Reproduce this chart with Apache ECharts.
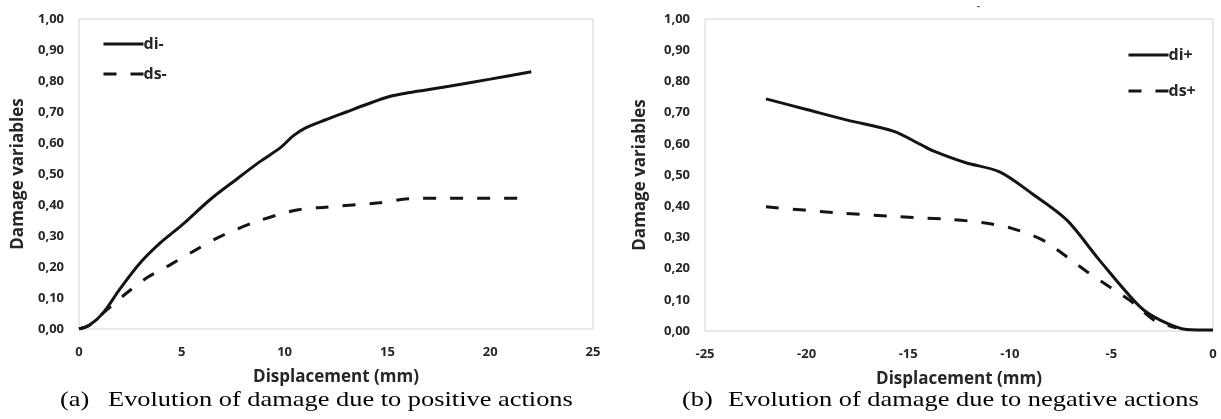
<!DOCTYPE html>
<html>
<head>
<meta charset="utf-8">
<script src="https://cdn.jsdelivr.net/npm/echarts@6/dist/echarts.min.js"></script>
<style>
  html, body { margin: 0; padding: 0; background: #ffffff; }
  #chart { width: 1221px; height: 419px; }
</style>
</head>
<body>
<div id="chart"></div>
<script>
// (a) positive actions: displacement (mm) vs damage variables
const diMinusX = [0, 0.5, 1.18, 2, 2.97, 3.94, 5, 6.37, 7.6, 8.8, 9.8, 10.4, 11, 12, 13, 14, 15.1, 16, 18, 20, 22];
const diMinusY = [0, 0.012, 0.052, 0.13, 0.213, 0.277, 0.335, 0.417, 0.48, 0.54, 0.585, 0.622, 0.648, 0.675, 0.7, 0.725, 0.75, 0.762, 0.783, 0.806, 0.83];
const dsMinusX = [0, 0.5, 1.18, 2.32, 3.3, 4.43, 5.6, 6.86, 8.64, 10.6, 12, 14.6, 16, 18, 20, 22];
const dsMinusY = [0, 0.012, 0.052, 0.116, 0.165, 0.207, 0.252, 0.298, 0.347, 0.384, 0.393, 0.407, 0.42, 0.422, 0.422, 0.422];

// (b) negative actions
const diPlusX = [-22, -20, -18, -15.7, -14.4, -13.8, -12.2, -10.5, -8.9, -7.2, -5.6, -3.6, -2.6, -1.3, 0];
const diPlusY = [0.744, 0.71, 0.676, 0.64, 0.598, 0.578, 0.54, 0.51, 0.44, 0.356, 0.228, 0.078, 0.035, 0.005, 0.003];
const dsPlusX = [-22, -18.7, -15.4, -13, -11.3, -9.9, -8.4, -7.2, -6.2, -5.1, -3.9, -2.9, -1.8];
const dsPlusY = [0.398, 0.38, 0.366, 0.358, 0.347, 0.329, 0.292, 0.238, 0.19, 0.142, 0.089, 0.035, 0.01];

const xTicksA = { min: 0, max: 25, step: 5 };
const xTicksB = { min: -25, max: 0, step: 5 };
const yTicks = { min: 0, max: 1, step: 0.1 };

const captionA = ['(a)', 'Evolution of damage due to positive actions'];
const captionB = ['(b)', 'Evolution of damage due to negative actions'];

const pairs = (xs, ys) => xs.map((x, i) => [x, ys[i]]);

const ink = '#141414';
const labelFont = { fontFamily: 'Open Sans', fontWeight: 'bold', fontSize: 13, color: '#262626' };
const nameFont = { fontFamily: 'Open Sans', fontWeight: 'bold', fontSize: 17, color: '#262626' };

function xAxis(gridIndex, t) {
  return {
    type: 'value', gridIndex, min: t.min, max: t.max, interval: t.step,
    name: 'Displacement (mm)', nameLocation: 'middle', nameGap: 40,
    nameTextStyle: nameFont,
    axisLine: { show: false }, axisTick: { show: false }, splitLine: { show: false },
    axisLabel: Object.assign({ margin: 17 }, labelFont)
  };
}
function yAxis(gridIndex, gap) {
  return {
    type: 'value', gridIndex, min: yTicks.min, max: yTicks.max, interval: yTicks.step,
    name: 'Damage variables', nameLocation: 'middle', nameGap: gap,
    nameTextStyle: nameFont,
    axisLine: { show: false }, axisTick: { show: false }, splitLine: { show: false },
    axisLabel: Object.assign({ margin: 15, formatter: v => v.toFixed(2).replace('.', ',') }, labelFont)
  };
}
function line(name, data, idx, dashed) {
  return {
    name, type: 'line', xAxisIndex: idx, yAxisIndex: idx, data,
    smooth: 0.3, symbol: 'none',
    lineStyle: { color: ink, width: 3, type: dashed ? [13, 14] : 'solid' },
    itemStyle: { color: ink }
  };
}

const legendText = { fontFamily: 'Open Sans', fontWeight: 'bold', fontSize: 16, lineHeight: 16, color: '#262626', padding: [0, 0, 0, -5] };
// legend keys show only the stroke, without a marker on it
const legendBase = {
  orient: 'vertical', itemWidth: 40, itemHeight: 12, textStyle: legendText,
  itemStyle: { color: 'transparent', borderColor: 'transparent', borderWidth: 0, opacity: 0 },
  lineStyle: { width: 3, type: 'inherit' }
};

const chart = echarts.init(document.getElementById('chart'), null, { renderer: 'canvas' });
chart.setOption({
  animation: false,
  backgroundColor: '#ffffff',
  grid: [
    { left: 79, top: 19, width: 514, height: 310, show: true, borderColor: '#d4d4d4', borderWidth: 1, backgroundColor: 'transparent' },
    { left: 705, top: 19, width: 508, height: 312, show: true, borderColor: '#d4d4d4', borderWidth: 1, backgroundColor: 'transparent' }
  ],
  xAxis: [xAxis(0, xTicksA), xAxis(1, xTicksB)],
  yAxis: [yAxis(0, 52), yAxis(1, 56)],
  legend: [
    Object.assign({ data: ['di-', 'ds-'], left: 97, top: 31, itemGap: 14 }, legendBase),
    Object.assign({ data: ['di+', 'ds+'], left: 1122, top: 42, itemGap: 20 }, legendBase)
  ],
  series: [
    line('di-', pairs(diMinusX, diMinusY), 0, false),
    line('ds-', pairs(dsMinusX, dsMinusY), 0, true),
    line('di+', pairs(diPlusX, diPlusY), 1, false),
    line('ds+', pairs(dsPlusX, dsPlusY), 1, true)
  ],
  graphic: [
    { type: 'text', x: 60, y: 389, scaleX: 1.2, style: { text: captionA[0], font: '22px "Liberation Serif"', fill: '#000' } },
    { type: 'text', x: 108, y: 389, scaleX: 1.2, style: { text: captionA[1], font: '22px "Liberation Serif"', fill: '#000' } },
    { type: 'text', x: 682, y: 389, scaleX: 1.2, style: { text: captionB[0], font: '22px "Liberation Serif"', fill: '#000' } },
    { type: 'text', x: 728, y: 389, scaleX: 1.2, style: { text: captionB[1], font: '22px "Liberation Serif"', fill: '#000' } },
    { type: 'text', x: 977, y: 2, style: { text: '-', font: 'bold 9px "Open Sans"', fill: '#444' } }
  ]
});
</script>
</body>
</html>
